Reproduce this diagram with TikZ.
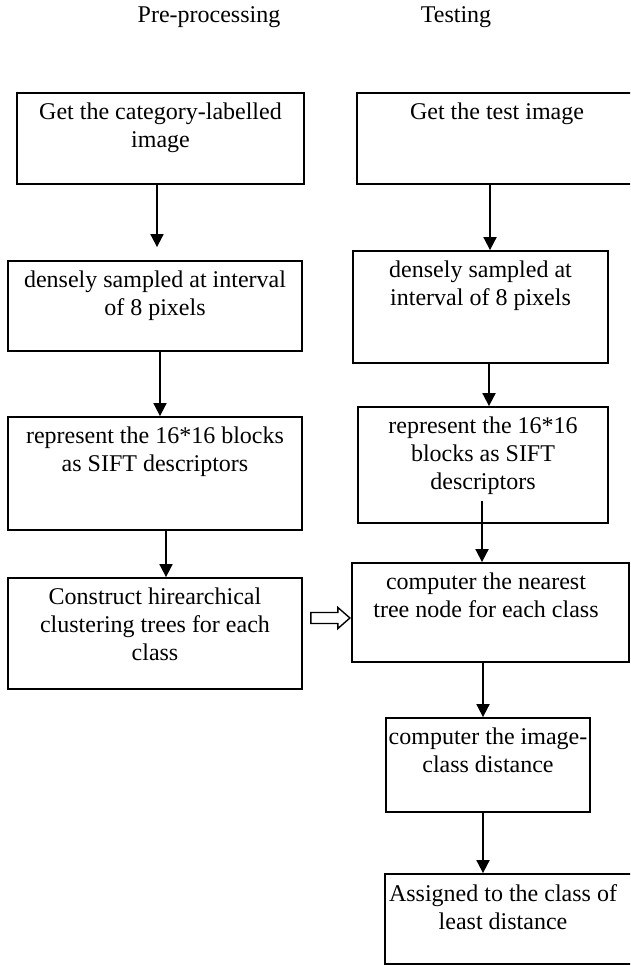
\documentclass[tikz,border=0pt]{standalone}
\usepackage{fontspec}
\setmainfont{Liberation Serif}
\usetikzlibrary{arrows.meta}
\tikzset{
  box/.style 2 args={draw, line width=1.8pt, inner sep=0pt, minimum width=#1pt, minimum height=#2pt},
  txt/.style={anchor=north, align=center, inner sep=0pt, font=\fontsize{24}{28}\selectfont},
  arr/.style={line width=1.8pt, -{Triangle[length=13pt,width=13pt]}}
}
\begin{document}
\begin{tikzpicture}[x=1pt, y=-1pt]
\useasboundingbox (0,0) rectangle (630,965);
\clip (0,0) rectangle (630,965);
% headings
\node[txt, anchor=base] (hpre) at (209,23) {Pre-processing};
\node[txt, anchor=base] (htest) at (456,23) {Testing};
% pre-processing column
\node[box={287}{91}] (getimg) at (160.5,138.5) {};
\node[txt] (getimgt) at ([yshift=-11pt]getimg.north) {Get the category-labelled\\image};
\node[box={294}{90}] (sample) at (155,306) {};
\node[txt] (samplet) at ([yshift=-11pt]sample.north) {densely sampled at interval\\of 8 pixels};
\node[box={294}{113}] (sift) at (155,473.5) {};
\node[txt] (siftt) at ([yshift=-11pt]sift.north) {represent the 16*16 blocks\\as SIFT descriptors};
\node[box={294}{111}] (clustr) at (155,633.5) {};
\node[txt] (clustrt) at ([yshift=-11pt]clustr.north) {Construct hirearchical\\clustering trees for each\\class};
% testing column
\node[box={280}{91}] (gettest) at (497,138.5) {};
\node[txt] (gettestt) at ([yshift=-11pt]gettest.north) {Get the test image};
\node[box={255}{112}] (tsample) at (480.5,307) {};
\node[txt] (tsamplet) at ([yshift=-11pt]tsample.north) {densely sampled at\\interval of 8 pixels};
\node[box={250}{116}] (tsift) at (483,465) {};
\node[txt] (tsiftt) at ([yshift=-11pt]tsift.north) {represent the 16*16\\blocks as SIFT\\descriptors};
\node[box={277}{99}] (nearest) at (490.5,612.5) {};
\node[txt] (nearestt) at ([xshift=-4.5pt,yshift=-11pt]nearest.north) {computer the nearest\\tree node for each class};
\node[box={204}{94}] (imgdist) at (488,765) {};
\node[txt] (imgdistt) at ([yshift=-11pt]imgdist.north) {computer the image-\\class distance};
\node[box={252}{90}] (assign) at (511,919) {};
\node[txt] (assignt) at ([xshift=-8pt,yshift=-11pt]assign.north) {Assigned to the class of\\least distance};
% arrows
\draw[arr] ([xshift=-3.5pt]getimg.south) -- ([xshift=2pt,yshift=13pt]sample.north);
\draw[arr] ([xshift=5pt]sample.south) -- ([xshift=5pt]sift.north);
\draw[arr] ([xshift=11pt]sift.south) -- ([xshift=11pt]clustr.north);
\draw[arr] ([xshift=-7pt]gettest.south) -- ([xshift=9.5pt]tsample.north);
\draw[arr] ([xshift=8.5pt]tsample.south) -- ([xshift=6pt]tsift.north);
\draw[arr] ([xshift=-1pt,yshift=23pt]tsift.south) -- ([xshift=-8.5pt]nearest.north);
\draw[arr] ([xshift=-7.5pt]nearest.south) -- ([xshift=-5pt]imgdist.north);
\draw[arr] ([xshift=-5pt]imgdist.south) -- ([xshift=-28pt]assign.north);
% hollow arrow
\coordinate (h0) at ([xshift=8pt,yshift=15.5pt]clustr.east);
\draw[line width=1.4pt, line join=miter] (h0) ++(0,-5.5) -- ++(27,0) -- ++(0,-5) -- ++(12,10.5)
  -- ++(-12,10.5) -- ++(0,-5) -- ++(-27,0) -- cycle;
\end{tikzpicture}
\end{document}
